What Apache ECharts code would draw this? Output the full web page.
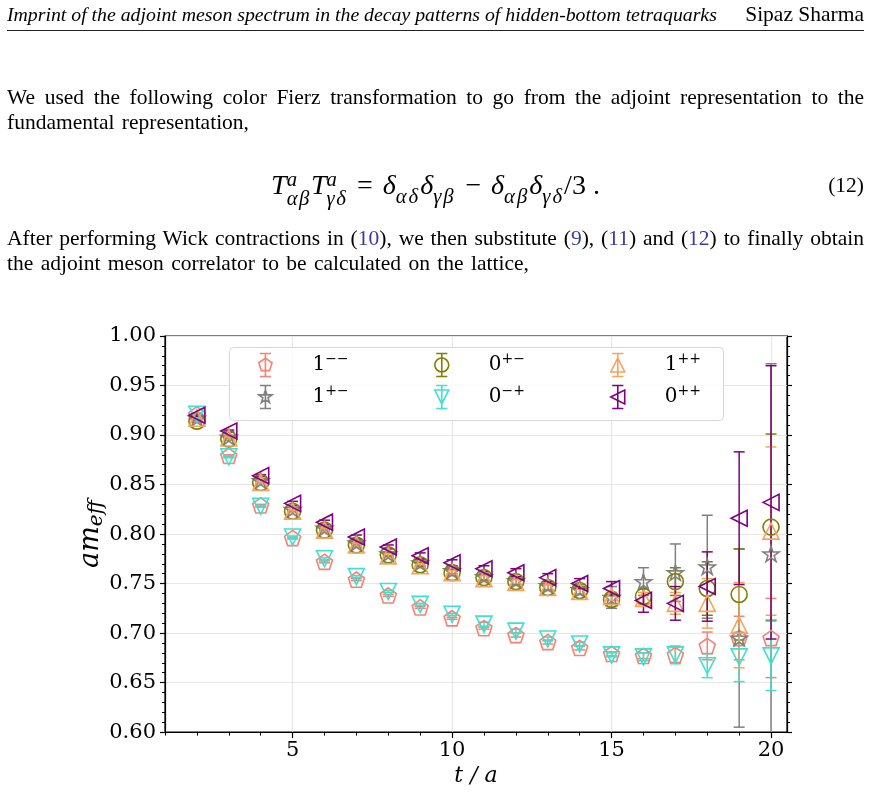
<!DOCTYPE html>
<html>
<head>
<meta charset="utf-8">
<script src="https://cdn.jsdelivr.net/npm/echarts@6/dist/echarts.min.js"></script>
<style>
  html, body { margin: 0; padding: 0; background: #fff; }
  body { width: 871px; height: 793px; position: relative; overflow: hidden; font-family: 'Liberation Serif', serif; color: #000; }
  #chart { position: absolute; left: 0; top: 0; width: 871px; height: 793px; }
  .head { position: absolute; left: 7px; top: 2px; width: 857px; font-size: 19.8px; line-height: 24px; font-style: italic; }
  .head .r { position: absolute; right: 0; top: 0; font-style: normal; font-size: 21.5px; }
  .rule { position: absolute; left: 7px; top: 30px; width: 857px; border-top: 1.3px solid #222; }
  .par { position: absolute; left: 7px; width: 857px; font-size: 21.5px; line-height: 25px; }
  .par .just { white-space: nowrap; text-align: justify; text-align-last: justify; }
  .par .rest { white-space: nowrap; word-spacing: 2px; }
  .ref { color: #3b3b9e; }
  .eq { position: absolute; left: 7px; width: 857px; top: 167px; font-size: 28px; line-height: 36px; text-align: center; }
  .eqn { position: absolute; right: 0; top: 0; font-size: 21.5px; }
  .st { display: inline-block; vertical-align: -0.55em; line-height: 0.95; font-size: 0.74em; text-align: left; font-style: italic; letter-spacing: 1.5px; }
  .st span { display: block; }
  .sb { font-size: 0.74em; vertical-align: -0.42em; font-style: italic; letter-spacing: 2px; }
  .op { margin: 0 0.35em; }
</style>
</head>
<body>
<div id="chart"></div>
<div class="head">Imprint of the adjoint meson spectrum in the decay patterns of hidden-bottom tetraquarks<span class="r">Sipaz Sharma</span></div>
<div class="rule"></div>
<div class="par" style="top:85px"><div class="just">We used the following color Fierz transformation to go from the adjoint representation to the</div><div class="rest">fundamental representation,</div></div>
<div class="eq"><i>T</i><span class="st"><span>a</span><span>αβ</span></span><i>T</i><span class="st"><span>a</span><span>γδ</span></span><span class="op">=</span><i>δ</i><span class="sb">αδ</span><i>δ</i><span class="sb">γβ</span><span class="op">−</span><i>δ</i><span class="sb">αβ</span><i>δ</i><span class="sb">γδ</span>/3 .<span class="eqn">(12)</span></div>
<div class="par" style="top:226px"><div class="just">After performing Wick contractions in (<span class="ref">10</span>), we then substitute (<span class="ref">9</span>), (<span class="ref">11</span>) and (<span class="ref">12</span>) to finally obtain</div><div class="rest">the adjoint meson correlator to be calculated on the lattice,</div></div>

<script>
// time slices
const tValues = [2, 3, 4, 5, 6, 7, 8, 9, 10, 11, 12, 13, 14, 15, 16, 17, 18, 19, 20];

// effective masses and errors per channel
const m1mm = [0.921, 0.879, 0.829, 0.796, 0.772, 0.754, 0.738, 0.726, 0.715, 0.705, 0.698, 0.691, 0.685, 0.679, 0.677, 0.678, 0.687, 0.695, 0.695];
const e1mm = [0.001, 0.001, 0.001, 0.001, 0.001, 0.001, 0.001, 0.001, 0.001, 0.001, 0.002, 0.002, 0.002, 0.002, 0.003, 0.008, 0.014, 0.022, 0.040];

const m1pm = [0.917, 0.898, 0.854, 0.825, 0.806, 0.791, 0.780, 0.771, 0.763, 0.757, 0.753, 0.748, 0.744, 0.736, 0.752, 0.761, 0.767, 0.695, 0.780];
const e1pm = [0.001, 0.001, 0.001, 0.002, 0.002, 0.002, 0.002, 0.003, 0.003, 0.003, 0.004, 0.004, 0.005, 0.011, 0.014, 0.029, 0.052, 0.090, 0.192];

const m0pm = [0.914, 0.896, 0.852, 0.823, 0.804, 0.789, 0.779, 0.769, 0.761, 0.756, 0.752, 0.746, 0.743, 0.734, 0.737, 0.752, 0.745, 0.739, 0.807];
const e0pm = [0.001, 0.001, 0.001, 0.001, 0.002, 0.002, 0.002, 0.002, 0.003, 0.003, 0.003, 0.003, 0.004, 0.005, 0.008, 0.014, 0.027, 0.046, 0.094];

const m0mp = [0.921, 0.878, 0.828, 0.797, 0.775, 0.757, 0.742, 0.729, 0.719, 0.709, 0.702, 0.694, 0.689, 0.678, 0.676, 0.678, 0.667, 0.676, 0.677];
const e0mp = [0.001, 0.001, 0.001, 0.001, 0.001, 0.001, 0.001, 0.001, 0.001, 0.002, 0.002, 0.002, 0.002, 0.002, 0.004, 0.009, 0.012, 0.025, 0.035];

const m1pp = [0.917, 0.897, 0.852, 0.823, 0.804, 0.789, 0.778, 0.768, 0.761, 0.755, 0.751, 0.746, 0.742, 0.737, 0.735, 0.730, 0.730, 0.708, 0.803];
const e1pp = [0.001, 0.001, 0.001, 0.001, 0.002, 0.002, 0.002, 0.002, 0.002, 0.003, 0.003, 0.003, 0.003, 0.004, 0.006, 0.011, 0.025, 0.043, 0.085];

const m0pp = [0.920, 0.904, 0.859, 0.831, 0.812, 0.797, 0.787, 0.778, 0.771, 0.765, 0.761, 0.756, 0.750, 0.745, 0.733, 0.730, 0.747, 0.816, 0.832];
const e0pp = [0.001, 0.001, 0.001, 0.002, 0.002, 0.002, 0.002, 0.003, 0.003, 0.003, 0.004, 0.004, 0.005, 0.007, 0.012, 0.017, 0.035, 0.067, 0.138];

// axis ticks
const xMajorTicks = [5, 10, 15, 20];
const xMinorTicks = [1, 2, 3, 4, 5, 6, 7, 8, 9, 10, 11, 12, 13, 14, 15, 16, 17, 18, 19, 20];

// marker outlines, drawn in a 20x20 box (dy shifts them down for the legend glyph)
const pentagonPts = [[10, 0], [19.51, 6.91], [15.88, 18.09], [4.12, 18.09], [0.49, 6.91]];
const starPts = [[10, 0], [12.25, 6.91], [19.51, 6.91], [13.63, 11.18], [15.88, 18.09], [10, 13.82],
  [4.12, 18.09], [6.37, 11.18], [0.49, 6.91], [7.75, 6.91]];
const triDownPts = [[0, 0], [20, 0], [10, 20]];
const triUpPts = [[10, 0], [20, 20], [0, 20]];
const triLeftPts = [[0, 10], [20, 0], [20, 20]];

const poly = (pts, dy) => 'M' + pts.map(p => p[0] + ' ' + (p[1] + dy)).join(' L') + ' Z';
const circ = dy => `M0 ${10 + dy} A10 10 0 1 0 20 ${10 + dy} A10 10 0 1 0 0 ${10 + dy} Z`;

const markerPath = shape => 'path://' + (shape === 'circle' ? circ(0) : poly(shape, 0));
// legend glyph: marker with an error bar through it
const legendPath = shape => 'path://M2 0 L18 0 M10 0 L10 33 M2 33 L18 33 ' +
  (shape === 'circle' ? circ(6.5) : poly(shape, 6.5));

const channels = [
  { name: '1--', values: m1mm, errors: e1mm, color: '#fa8072', shape: pentagonPts, size: 16 },
  { name: '1+-', values: m1pm, errors: e1pm, color: '#808080', shape: starPts, size: 16 },
  { name: '0+-', values: m0pm, errors: e0pm, color: '#808000', shape: 'circle', size: 16 },
  { name: '0-+', values: m0mp, errors: e0mp, color: '#40e0d0', shape: triDownPts, size: 16 },
  { name: '1++', values: m1pp, errors: e1pp, color: '#f4a460', shape: triUpPts, size: 16 },
  { name: '0++', values: m0pp, errors: e0pp, color: '#800080', shape: triLeftPts, size: 16 },
];

// legend slots: [name, left, top]
const legendSlots = [
  ['1--', 258, 352], ['0+-', 434, 352], ['1++', 610, 352],
  ['1+-', 258, 384], ['0-+', 434, 384], ['0++', 610, 384],
];

const serifFont = 'DejaVu Serif';

const errorBarItem = color => (params, api) => {
  const x = api.value(0);
  const y = api.value(1);
  const e = api.value(2);
  const hi = api.coord([x, y + e]);
  const lo = api.coord([x, y - e]);
  const w = 5.5;
  const style = { stroke: color, lineWidth: 1.5, fill: null };
  return {
    type: 'group',
    children: [
      { type: 'line', shape: { x1: hi[0], y1: hi[1], x2: lo[0], y2: lo[1] }, style },
      { type: 'line', shape: { x1: hi[0] - w, y1: hi[1], x2: hi[0] + w, y2: hi[1] }, style },
      { type: 'line', shape: { x1: lo[0] - w, y1: lo[1], x2: lo[0] + w, y2: lo[1] }, style },
    ],
  };
};

const series = [];
channels.forEach(ch => {
  series.push({
    type: 'custom',
    name: ch.name + ' err',
    silent: true,
    clip: true,
    renderItem: errorBarItem(ch.color),
    encode: { x: 0, y: 1 },
    data: tValues.map((t, i) => [t, ch.values[i], ch.errors[i]]),
  });
  series.push({
    type: 'scatter',
    name: ch.name,
    symbol: markerPath(ch.shape),
    symbolSize: ch.size,
    symbolKeepAspect: true,
    silent: true,
    itemStyle: { color: 'rgba(0,0,0,0)', borderColor: ch.color, borderWidth: 1.6, opacity: 1 },
    data: tValues.map((t, i) => [t, ch.values[i]]),
  });
});

const legendLabel = name => {
  const sup = name.slice(1).replace(/-/g, '\u2212');
  return `{n|${name[0]}}{s|${sup}}`;
};

const legends = legendSlots.map(([name, left, top]) => {
  const ch = channels.find(c => c.name === name);
  return {
    left, top,
    padding: 0,
    itemWidth: 62,
    itemHeight: 23,
    selectedMode: false,
    formatter: legendLabel,
    data: [{
      name,
      icon: legendPath(ch.shape),
      itemStyle: { color: 'rgba(0,0,0,0)', borderColor: ch.color, borderWidth: 1.6 },
    }],
    textStyle: {
      rich: {
        n: { fontFamily: serifFont, fontSize: 20, lineHeight: 26, color: '#000', padding: [0, 0, 0, 11] },
        s: { fontFamily: serifFont, fontSize: 14, lineHeight: 14, color: '#000', verticalAlign: 'top' },
      },
    },
  };
});

const chart = echarts.init(document.getElementById('chart'), null, { renderer: 'canvas' });

chart.setOption({
  animation: false,
  backgroundColor: 'transparent',
  grid: {
    left: 165, top: 336, width: 622, height: 399,
    show: true, borderColor: '#000', borderWidth: 1.2, backgroundColor: 'transparent',
  },
  legend: legends,
  graphic: [{
    type: 'rect',
    left: 229, top: 347, z: 3,
    shape: { width: 494, height: 73, r: 4 },
    style: { fill: 'rgba(255,255,255,0.8)', stroke: '#d6d6d6', lineWidth: 1 },
  }],
  xAxis: [
    {
      type: 'value', min: 1, max: 20.5, position: 'bottom',
      axisLine: { show: true, onZero: false, lineStyle: { color: '#000', width: 1.2 } },
      axisTick: { show: true, customValues: xMajorTicks, length: 6, lineStyle: { color: '#000', width: 1.2 } },
      axisLabel: { customValues: xMajorTicks, fontFamily: serifFont, fontSize: 21, color: '#000', margin: 8 },
      splitLine: { show: true, lineStyle: { color: '#e6e6e6', width: 1 } },
      name: 't / a', nameLocation: 'middle', nameGap: 33,
      nameTextStyle: { fontFamily: serifFont, fontStyle: 'italic', fontSize: 22, color: '#000' },
    },
    {
      type: 'value', min: 1, max: 20.5, position: 'bottom',
      axisLine: { show: false, onZero: false },
      axisTick: { show: true, customValues: xMinorTicks, length: 3.5, lineStyle: { color: '#000', width: 1 } },
      axisLabel: { show: false },
      splitLine: { show: false },
    },
  ],
  yAxis: [
    {
      type: 'value', min: 0.6, max: 1.0, interval: 0.05,
      axisLine: { show: true, onZero: false, lineStyle: { color: '#000', width: 1.2 } },
      axisTick: { show: true, length: 5, lineStyle: { color: '#000', width: 1.2 } },
      minorTick: { show: true, splitNumber: 5, length: 3, lineStyle: { color: '#000', width: 1 } },
      axisLabel: { formatter: v => v.toFixed(2), fontFamily: serifFont, fontSize: 21, color: '#000', margin: 9 },
      splitLine: { show: true, lineStyle: { color: '#e6e6e6', width: 1 } },
      name: '{a|am}{b|eff}', nameLocation: 'middle', nameGap: 58, nameRotate: 90, nameMoveOverlap: false,
      nameTextStyle: {
        rich: {
          a: { fontFamily: serifFont, fontStyle: 'italic', fontSize: 27, lineHeight: 32, color: '#000' },
          b: { fontFamily: serifFont, fontStyle: 'italic', fontSize: 20, lineHeight: 16, color: '#000', verticalAlign: 'bottom' },
        },
      },
    },
    {
      type: 'value', min: 0.6, max: 1.0, interval: 0.05, position: 'right',
      axisLine: { show: true, onZero: false, lineStyle: { color: '#000', width: 1.2 } },
      axisTick: { show: true, length: 5, lineStyle: { color: '#000', width: 1.2 } },
      minorTick: { show: true, splitNumber: 5, length: 3, lineStyle: { color: '#000', width: 1 } },
      axisLabel: { show: false },
      splitLine: { show: false },
    },
  ],
  series,
});

window.addEventListener('resize', () => chart.resize());
</script>
</body>
</html>
